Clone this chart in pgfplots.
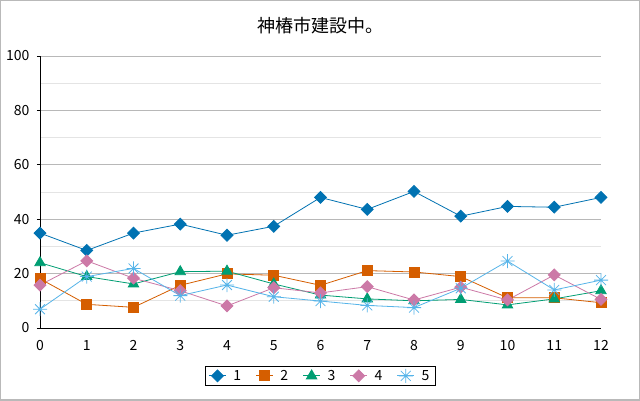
\documentclass[border=0pt]{standalone}
\usepackage{fontspec}
\setmainfont{Noto Sans CJK JP}
\usepackage{pgfplots}
\pgfplotsset{compat=1.18}
\definecolor{c1}{HTML}{0072B2}
\definecolor{c2}{HTML}{D55E00}
\definecolor{c3}{HTML}{009E73}
\definecolor{c4}{HTML}{CC79A7}
\definecolor{c5}{HTML}{56B4E9}
\definecolor{gmaj}{HTML}{B8B8B8}
\definecolor{gmin}{HTML}{E4E4E4}
\pgfdeclareplotmark{snow}{%
  \pgfpathmoveto{\pgfqpoint{-\pgfplotmarksize}{0pt}}\pgfpathlineto{\pgfqpoint{\pgfplotmarksize}{0pt}}%
  \pgfpathmoveto{\pgfqpoint{0pt}{-\pgfplotmarksize}}\pgfpathlineto{\pgfqpoint{0pt}{\pgfplotmarksize}}%
  \pgfpathmoveto{\pgfqpoint{-0.707\pgfplotmarksize}{-0.707\pgfplotmarksize}}\pgfpathlineto{\pgfqpoint{0.707\pgfplotmarksize}{0.707\pgfplotmarksize}}%
  \pgfpathmoveto{\pgfqpoint{-0.707\pgfplotmarksize}{0.707\pgfplotmarksize}}\pgfpathlineto{\pgfqpoint{0.707\pgfplotmarksize}{-0.707\pgfplotmarksize}}%
  \pgfusepathqstroke}
\pgfplotstableread{
x y
0 34.9
1 28.5
2 34.9
3 38.2
4 34.1
5 37.4
6 48.0
7 43.6
8 50.2
9 41.1
10 44.7
11 44.4
12 48.0
}\sA
\pgfplotstableread{
x y
0 18.1
1 8.7
2 7.6
3 15.7
4 19.9
5 19.4
6 15.7
7 21.1
8 20.6
9 18.9
10 11.1
11 11.1
12 9.3
}\sB
\pgfplotstableread{
x y
0 24.0
1 18.9
2 16.2
3 20.7
4 20.9
5 16.2
6 12.1
7 10.7
8 10.0
9 10.5
10 8.5
11 10.7
12 13.7
}\sC
\pgfplotstableread{
x y
0 15.8
1 24.7
2 18.3
3 13.7
4 8.1
5 14.8
6 12.9
7 15.2
8 10.3
9 15.0
10 10.3
11 19.5
12 10.5
}\sD
\pgfplotstableread{
x y
0 6.9
1 18.9
2 21.9
3 11.9
4 15.8
5 11.5
6 9.9
7 8.3
8 7.5
9 14.6
10 24.6
11 14.0
12 17.6
}\sE
\begin{document}
\begin{tikzpicture}[x=1pt,y=1pt]
\useasboundingbox (0,0) rectangle (640,400);
\fill[white] (0,0) rectangle (640,400);
\draw[gray!55, line width=1.5pt] (0,0) rectangle (640,400);
\node[font=\fontsize{18}{20}\selectfont] at (320,374) {神椿市建設中。};
\begin{axis}[
  at={(40pt,72pt)}, anchor=south west,
  scale only axis, width=561pt, height=272pt,
  xmin=0, xmax=12, ymin=0, ymax=100,
  xtick={0,1,...,12}, ytick={0,20,...,100},
  minor ytick={10,30,...,90},
  ymajorgrids, yminorgrids,
  major grid style={gmaj, line width=0.8pt},
  minor grid style={gmin, line width=0.8pt},
  axis x line*=bottom, axis y line*=left,
  axis line style={black, line width=1pt},
  x axis line style={-}, y axis line style={-},
  tick style={black, line width=0.8pt},
  xtick style={draw=none},
  major tick length=3pt,
  minor tick length=0pt,
  tick align=outside,
  ticklabel style={font=\fontsize{14}{15}\selectfont},
  /pgf/number format/assume math mode=true,
  xticklabel style={yshift=-6pt},
  yticklabel style={xshift=-4pt},
  clip=false,
  legend columns=5,
  legend style={at={(0.5,-0.176)}, anchor=center, draw=black, line width=0.8pt,
    font=\fontsize{14}{15}\selectfont, inner xsep=3pt, inner ysep=2pt,
    nodes={inner xsep=3pt},
    /tikz/every even column/.append style={column sep=11.5pt},
    /tikz/every odd column/.append style={column sep=4pt}},
  legend image code/.code={
    \draw[mark repeat=2,mark phase=2] plot coordinates {(0pt,0pt) (8.5pt,0pt) (17pt,0pt)};},
  every axis plot/.append style={line width=0.8pt},
]
\addplot[c1, mark=square*, mark size=4.2pt, mark options={fill=c1, rotate=45}] table {\sA};
\addlegendentry{1}
\addplot[c2, mark=square*, mark size=5pt, mark options={fill=c2}] table {\sB};
\addlegendentry{2}
\addplot[c3, mark=triangle*, mark size=6pt, mark options={fill=c3}] table {\sC};
\addlegendentry{3}
\addplot[c4, mark=square*, mark size=4.2pt, mark options={fill=c4, rotate=45}] table {\sD};
\addlegendentry{4}
\addplot[c5, mark=snow, mark size=7pt] table {\sE};
\addlegendentry{5}
\end{axis}
\end{tikzpicture}
\end{document}
